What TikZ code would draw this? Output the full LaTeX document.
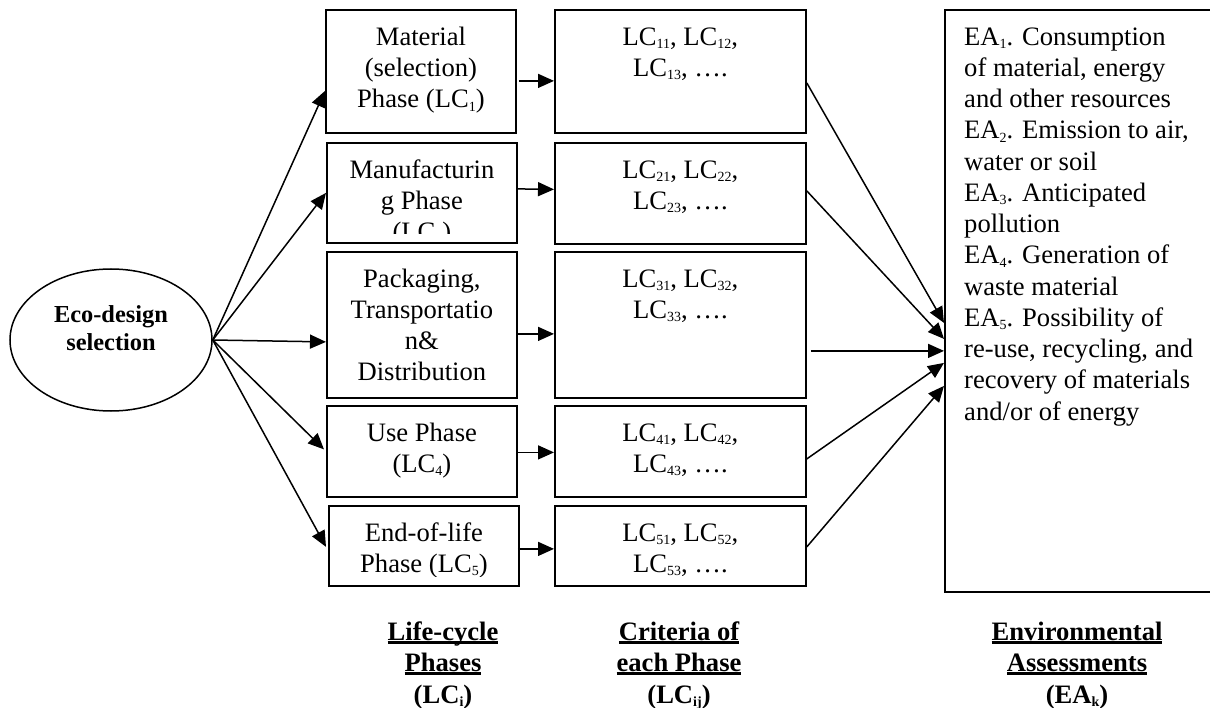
\documentclass[tikz,border=0pt]{standalone}
\usepackage{fontspec}
\setmainfont{Liberation Serif}
\usetikzlibrary{arrows.meta,shapes.geometric}

% small lowered index, as used in LC_1, EA_2, ...
\newcommand\lsub[1]{\raisebox{-3.5pt}{\fontsize{14}{14}\selectfont #1}}
% heavy underline for the column captions
\newcommand\uln[1]{\setbox0=\hbox{#1}\rlap{\rule[-3.5pt]{\wd0}{2.8pt}}\box0}

\tikzset{
  box/.style={draw, line width=1.8pt, inner sep=0pt, anchor=north west},
  txt/.style={font=\fontsize{26.6}{31.25}\selectfont, align=center, inner sep=0pt, anchor=north},
  lab/.style={font=\bfseries\fontsize{26.6}{31.5}\selectfont, align=center, inner sep=0pt, anchor=north},
  arr/.style={-{Triangle[length=16pt,width=14pt]}, line width=1.5pt},
}

\begin{document}
\begin{tikzpicture}[x=1pt, y=-1pt]
\useasboundingbox (0,0) rectangle (1210,708);

% start node
\node[draw, ellipse, line width=1.5pt, inner sep=0pt,
      minimum width=202pt, minimum height=142pt] (eco) at (111,340) {};
\node[font=\bfseries\fontsize{24.4}{28}\selectfont, align=center, inner sep=0pt, anchor=north]
      (ecotext) at ([yshift=37.6pt]eco.center) {\strut Eco-design\\selection};

% life-cycle phases
\node[box, minimum width=190pt, minimum height=123pt] (l1) at (325,9) {};
\node[box, minimum width=190pt, minimum height=100pt] (l2) at (326,142) {};
\node[box, minimum width=190pt, minimum height=146pt] (l3) at (326,251) {};
\node[box, minimum width=190pt, minimum height=91pt]  (l4) at (326,405) {};
\node[box, minimum width=190pt, minimum height=80pt]  (l5) at (328,505) {};

\node[txt] (t1) at ([yshift=-14.1pt]l1.north) {\strut Material\\(selection)\\Phase (LC\lsub{1})};
\begin{scope}
  \clip (l2.north west) rectangle ([yshift=10pt]l2.south east);
  \node[txt] (t2) at ([yshift=-14.1pt]l2.north) {\strut Manufacturin\\g Phase\\(LC\lsub{2})};
\end{scope}
\node[txt] (t3) at ([yshift=-14.1pt]l3.north) {\strut Packaging,\\Transportatio\\n\&\\Distribution};
\node[txt] (t4) at ([yshift=-14.1pt]l4.north) {\strut Use Phase\\(LC\lsub{4})};
\begin{scope}
  \clip (l5.north west) rectangle ([yshift=10pt]l5.south east);
  \node[txt] (t5) at ([yshift=-14.1pt]l5.north) {\strut End-of-life\\Phase (LC\lsub{5})};
\end{scope}

% criteria of each phase
\node[box, minimum width=251pt, minimum height=123pt] (c1) at (554,9) {};
\node[box, minimum width=251pt, minimum height=101pt] (c2) at (554,142) {};
\node[box, minimum width=251pt, minimum height=146pt] (c3) at (554,251) {};
\node[box, minimum width=251pt, minimum height=91pt]  (c4) at (554,405) {};
\node[box, minimum width=251pt, minimum height=80pt]  (c5) at (554,505) {};

\node[txt] (u1) at ([yshift=-14.1pt]c1.north) {\strut LC\lsub{11}, LC\lsub{12},\\LC\lsub{13}, ….};
\node[txt] (u2) at ([yshift=-14.1pt]c2.north) {\strut LC\lsub{21}, LC\lsub{22},\\LC\lsub{23}, ….};
\node[txt] (u3) at ([yshift=-14.1pt]c3.north) {\strut LC\lsub{31}, LC\lsub{32},\\LC\lsub{33}, ….};
\node[txt] (u4) at ([yshift=-14.1pt]c4.north) {\strut LC\lsub{41}, LC\lsub{42},\\LC\lsub{43}, ….};
\begin{scope}
  \clip (c5.north west) rectangle ([yshift=11pt]c5.south east);
  \node[txt] (u5) at ([yshift=-14.1pt]c5.north) {\strut LC\lsub{51}, LC\lsub{52},\\LC\lsub{53}, ….};
\end{scope}

% environmental assessments
\node[box, minimum width=272pt, minimum height=582pt] (ea) at (944,9) {};
\node[txt, align=left, anchor=north west] (eatext) at ([xshift=20pt, yshift=-14.1pt]ea.north west)
  {\strut EA\lsub{1}. Consumption\\
   of material, energy\\
   and other resources\\
   EA\lsub{2}. Emission to air,\\
   water or soil\\
   EA\lsub{3}. Anticipated\\
   pollution\\
   EA\lsub{4}. Generation of\\
   waste material\\
   EA\lsub{5}. Possibility of\\
   re-use, recycling, and\\
   recovery of materials\\
   and/or of energy};

% selection -> phases
\draw[arr] (eco.east) -- ([yshift=-19.5pt]l1.west);
\draw[arr] (eco.east) -- (l2.west);
\draw[arr] (eco.east) -- ([yshift=-17pt]l3.west);
\draw[arr] (eco.east) -- ([yshift=2pt,xshift=-2pt]l4.west);
\draw[arr] (eco.east) -- ([yshift=-1pt,xshift=-2pt]l5.west);

% phases -> criteria
\draw[arr] ([yshift=-9.5pt,xshift=2pt]l1.east) -- ([yshift=-9.5pt]c1.west);
\draw[arr] ([yshift=4pt]l2.east) -- ([yshift=4pt]c2.west);
\draw[arr] ([yshift=-9pt]l3.east) -- ([yshift=-9pt]c3.west);
\draw[arr] ([yshift=-1pt]l4.east) -- ([yshift=-1pt]c4.west);
\draw[arr] ([yshift=-3pt,xshift=-2pt]l5.east) -- ([yshift=-3pt]c5.west);

% criteria -> assessments
\draw[arr] ([yshift=-11.5pt]c1.east) -- ([yshift=-22pt]ea.west);
\draw[arr] ([yshift=2.5pt]c2.east) -- ([yshift=-38pt]ea.west);
\draw[arr] ([yshift=-26pt,xshift=4pt]c3.east) -- ([yshift=-50pt]ea.west);
\draw[arr] ([yshift=-7.5pt]c4.east) -- ([yshift=-62pt]ea.west);
\draw[arr] ([yshift=-1pt]c5.east) -- ([yshift=-85pt]ea.west);

% column captions
\node[lab] (capA) at (443,617.95) {\strut\uln{Life-cycle}\\\uln{Phases}\\(LC\lsub{i})};
\node[lab] (capB) at (679,617.95) {\strut\uln{Criteria of}\\\uln{each Phase}\\(LC\lsub{ij})};
\node[lab] (capC) at (1077,617.95) {\strut\uln{Environmental}\\\uln{Assessments}\\(EA\lsub{k})};
\end{tikzpicture}
\end{document}
